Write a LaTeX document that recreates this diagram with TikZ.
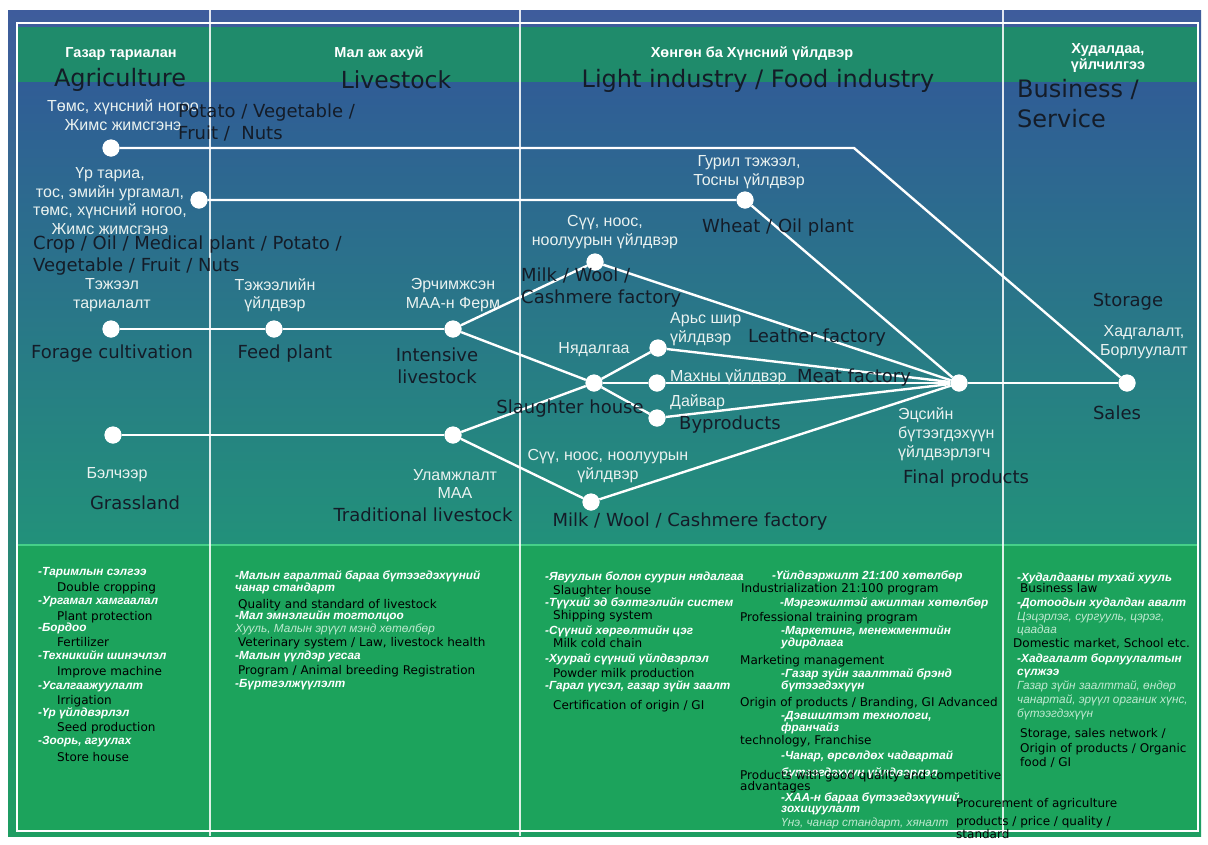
\documentclass[tikz,border=0pt]{standalone}
\usepackage{fontspec}
\setmainfont{Liberation Sans}
\newfontfamily\engfont{DejaVu Sans}
\definecolor{rimtop}{HTML}{3E5C9C}
\definecolor{rimbot}{HTML}{1E9E62}
\definecolor{paneltop}{HTML}{305D96}
\definecolor{panelbot}{HTML}{22917A}
\definecolor{headband}{HTML}{1F8B6B}
\definecolor{lowband}{HTML}{1CA35C}
\definecolor{lowedge}{HTML}{45D088}
\definecolor{inkdark}{HTML}{141C28}
\definecolor{paletext}{HTML}{EAF2F0}
\definecolor{softtext}{HTML}{BFE9D0}
\tikzset{
  dot/.style={circle, fill=white, minimum size=17pt, inner sep=0pt},
  link/.style={draw=white, line width=2.4pt},
  divider/.style={draw=white, opacity=0.85, line width=1.3pt},
  mnlabel/.style={text=paletext, font=\fontsize{16}{18.5}\selectfont, align=center, inner sep=0pt},
  enlabel/.style={text=inkdark, font=\engfont\fontsize{18}{21.5}\selectfont, align=center, inner sep=0pt},
  headmn/.style={text=white, font=\bfseries\fontsize{14.5}{16.5}\selectfont, align=center, inner sep=0pt},
  headen/.style={text=inkdark, font=\engfont\fontsize{24}{30}\selectfont, align=left, inner sep=0pt},
  notemn/.style={anchor=base west, text=white, font=\bfseries\itshape\fontsize{11.8}{12}\selectfont, inner sep=0pt},
  notesoft/.style={anchor=base west, text=softtext, font=\itshape\fontsize{11.8}{12}\selectfont, inner sep=0pt},
  noteen/.style={anchor=base west, text=black, font=\engfont\fontsize{12}{13}\selectfont, inner sep=0pt}
}
\begin{document}
\begin{tikzpicture}[x=1pt,y=-1pt]
\useasboundingbox (0,0) rectangle (1208,844);
\fill[white] (0,0) rectangle (1208,844);
% panels
\shade[top color=rimtop, bottom color=rimbot] (8,10) rectangle (1201,836);
\shade[top color=paneltop, bottom color=panelbot] (17,82) rectangle (1198,545);
\fill[headband] (17,27) rectangle (1198,82);
\fill[lowband] (17,545) rectangle (1198,831);
\draw[lowedge, line width=2pt] (17,545) -- (1198,545);
\draw[white, line width=1.3pt] (17,23) rectangle (1198,831);
\draw[divider] (210,10) -- (210,836);
\draw[divider] (520,10) -- (520,836);
\draw[divider] (1003,10) -- (1003,836);

% column headings
\node[headmn] (hagmn) at (121,54) {Газар тариалан};
\node[headen, anchor=center] (hagen) at (120,80) {Agriculture};
\node[headmn] (hlvmn) at (379,54) {Мал аж ахуй};
\node[headen, anchor=center, font=\engfont\fontsize{23.5}{28}\selectfont] (hlven) at (396,80) {Livestock};
\node[headmn] (hinmn) at (752,54) {Хөнгөн ба Хүнсний үйлдвэр};
\node[headen, anchor=center] (hinen) at (758,81) {Light industry / Food industry};
\node[headmn] (hbsmn) at (1108,58) {Худалдаа,\\үйлчилгээ};
\node[headen, anchor=north west] (hbsen) at (1017,79) {Business /\\Service};

% stations
\node[dot] (potato) at (111,148) {};
\node[dot] (crop) at (199,200) {};
\node[dot] (forage) at (111,329) {};
\node[dot] (feed) at (274,329) {};
\node[dot] (intensive) at (453,329) {};
\node[dot] (grass) at (113,435) {};
\node[dot] (tradition) at (453,435) {};
\node[dot] (milkup) at (595,262) {};
\node[dot] (slaughter) at (594,383) {};
\node[dot] (leather) at (658,348) {};
\node[dot] (meat) at (657,383) {};
\node[dot] (byprod) at (657,418) {};
\node[dot] (milkdown) at (591,502) {};
\node[dot] (wheat) at (745,200) {};
\node[dot] (final) at (959,383) {};
\node[dot] (sales) at (1127,383) {};
\coordinate (potatobend) at (854,148);

% connectors
\draw[link] (potato) -- (potatobend) -- (sales);
\draw[link] (crop) -- (wheat) -- (final);
\draw[link] (forage) -- (feed) -- (intensive);
\draw[link] (intensive) -- (milkup);
\draw[link] (intensive) -- (slaughter);
\draw[link] (grass) -- (tradition);
\draw[link] (tradition) -- (slaughter);
\draw[link] (tradition) -- (milkdown);
\draw[link] (slaughter) -- (leather);
\draw[link] (slaughter) -- (meat);
\draw[link] (slaughter) -- (byprod);
\draw[link] (milkup) -- (final);
\draw[link] (leather) -- (final);
\draw[link] (meat) -- (final);
\draw[link] (byprod) -- (final);
\draw[link] (milkdown) -- (final);
\draw[link] (final) -- (sales);
% stations drawn again on top of the lines
\foreach \s in {potato,crop,forage,feed,intensive,grass,tradition,milkup,slaughter,leather,meat,byprod,milkdown,wheat,final,sales}
  \fill[white] (\s) circle (8.5pt);

% station labels
\node[mnlabel] (potatomn) at (123,115) {Төмс, хүнсний ногоо\\Жимс жимсгэнэ};
\node[enlabel, anchor=north west, align=left] (potatoen) at (178,104) {Potato / Vegetable /\\Fruit /\ \ Nuts};
\node[mnlabel] (cropmn) at (110,201) {Үр тариа,\\тос, эмийн ургамал,\\төмс, хүнсний ногоо,\\Жимс жимсгэнэ};
\node[enlabel, anchor=north west, align=left] (cropen) at (33,236) {Crop / Oil / Medical plant / Potato /\\Vegetable / Fruit / Nuts};
\node[mnlabel] (foragemn) at (112,295) {Тэжээл\\тариалалт};
\node[enlabel] (forageen) at (112,354) {Forage cultivation};
\node[mnlabel] (feedmn) at (275,295) {Тэжээлийн\\үйлдвэр};
\node[enlabel] (feeden) at (285,354) {Feed plant};
\node[mnlabel] (intensivemn) at (453,295) {Эрчимжсэн\\МАА-н Ферм};
\node[enlabel] (intensiveen) at (437,366) {Intensive\\livestock};
\node[mnlabel] (grassmn) at (117,475) {Бэлчээр};
\node[enlabel] (grassen) at (135,503) {Grassland};
\node[mnlabel] (traditionmn) at (455,484) {Уламжлалт\\МАА};
\node[enlabel] (traditionen) at (423,515) {Traditional livestock};
\node[mnlabel] (milkupmn) at (605,232) {Сүү, ноос,\\ноолуурын үйлдвэр};
\node[enlabel, anchor=north west, align=left] (milkupen) at (521,268) {Milk / Wool /\\Cashmere factory};
\node[mnlabel] (wheatmn) at (749,172) {Гурил тэжээл,\\Тосны үйлдвэр};
\node[enlabel] (wheaten) at (778,228) {Wheat / Oil plant};
\node[mnlabel] (slaughtermn) at (594,350) {Нядалгаа};
\node[enlabel] (slaughteren) at (570,409) {Slaughter house};
\node[mnlabel, anchor=west, align=left] (leathermn) at (670,329) {Арьс шир\\үйлдвэр};
\node[enlabel, anchor=west] (leatheren) at (748,338) {Leather factory};
\node[mnlabel, anchor=west] (meatmn) at (670,377) {Махны үйлдвэр};
\node[enlabel, anchor=west] (meaten) at (797,378) {Meat factory};
\node[mnlabel, anchor=west] (byprodmn) at (670,402) {Дайвар};
\node[enlabel, anchor=west] (byproden) at (679,425) {Byproducts};
\node[mnlabel] (milkdownmn) at (608,466) {Сүү, ноос, ноолуурын\\үйлдвэр};
\node[enlabel] (milkdownen) at (690,522) {Milk / Wool / Cashmere factory};
\node[mnlabel, anchor=west, align=left, font=\fontsize{16}{19}\selectfont] (finalmn) at (898,434) {Эцсийн\\бүтээгдэхүүн\\үйлдвэрлэгч};
\node[enlabel, anchor=west] (finalen) at (903,479) {Final products};
\node[enlabel] (storageen) at (1128,302) {Storage};
\node[mnlabel] (salesmn) at (1144,342) {Хадгалалт,\\Борлуулалт};
\node[enlabel] (salesen) at (1117,413) {Sales};

% notes: agriculture
\node[notemn] (n1a) at (38,575) {-Таримлын сэлгээ};
\node[noteen] (n1b) at (57,591) {Double cropping};
\node[notemn] (n1c) at (38,604) {-Ургамал хамгаалал};
\node[noteen] (n1d) at (57,620) {Plant protection};
\node[notemn] (n1e) at (38,631) {-Бордоо};
\node[noteen] (n1f) at (57,646) {Fertilizer};
\node[notemn] (n1g) at (38,659) {-Техникийн шинэчлэл};
\node[noteen] (n1h) at (57,675) {Improve machine};
\node[notemn] (n1i) at (38,689) {-Усалгаажуулалт};
\node[noteen] (n1j) at (57,704) {Irrigation};
\node[notemn] (n1k) at (38,716) {-Үр үйлдвэрлэл};
\node[noteen] (n1l) at (57,731) {Seed production};
\node[notemn] (n1m) at (38,744) {-Зоорь, агуулах};
\node[noteen] (n1n) at (57,761) {Store house};

% notes: livestock
\node[notemn] (n2a) at (235,579) {-Малын гаралтай бараа бүтээгдэхүүний};
\node[notemn] (n2b) at (235,591) {чанар стандарт};
\node[noteen] (n2c) at (238,608) {Quality and standard of livestock};
\node[notemn] (n2d) at (235,619) {-Мал эмнэлгийн тогтолцоо};
\node[notesoft] (n2e) at (235,632) {Хууль, Малын эрүүл мэнд хөтөлбөр};
\node[noteen] (n2f) at (238,646) {Veterinary system / Law, livestock health};
\node[notemn] (n2g) at (235,659) {-Малын үүлдэр угсаа};
\node[noteen] (n2h) at (238,674) {Program / Animal breeding Registration};
\node[notemn] (n2i) at (235,687) {-Бүртгэлжүүлэлт};

% notes: light and food industry
\node[notemn] (n3a) at (545,580) {-Явуулын болон суурин нядалгаа};
\node[noteen] (n3b) at (553,594) {Slaughter house};
\node[notemn] (n3c) at (545,606) {-Түүхий эд бэлтгэлийн систем};
\node[noteen] (n3d) at (553,619) {Shipping system};
\node[notemn] (n3e) at (545,634) {-Сүүний хөргөлтийн цэг};
\node[noteen] (n3f) at (553,647) {Milk cold chain};
\node[notemn] (n3g) at (545,662) {-Хуурай сүүний үйлдвэрлэл};
\node[noteen] (n3h) at (553,677) {Powder milk production};
\node[notemn] (n3i) at (545,689) {-Гарал үүсэл, газар зүйн заалт};
\node[noteen] (n3j) at (553,709) {Certification of origin / GI};

\node[notemn] (n4a) at (772,579) {-Үйлдвэржилт 21:100 хөтөлбөр};
\node[noteen] (n4b) at (741,592) {Industrialization 21:100 program};
\node[notemn] (n4c) at (780,606) {-Мэргэжилтэй ажилтан хөтөлбөр};
\node[noteen] (n4d) at (740,621) {Professional training program};
\node[notemn] (n4e) at (781,634) {-Маркетинг, менежментийн};
\node[notemn] (n4f) at (781,646) {удирдлага};
\node[noteen] (n4g) at (740,664) {Marketing management};
\node[notemn] (n4h) at (781,677) {-Газар зүйн заалттай брэнд};
\node[notemn] (n4i) at (781,689) {бүтээгдэхүүн};
\node[noteen] (n4j) at (740,706) {Origin of products / Branding, GI Advanced};
\node[notemn] (n4k) at (781,719) {-Дэвшилтэт технологи,};
\node[notemn] (n4l) at (781,731) {франчайз};
\node[noteen] (n4m) at (740,744) {technology, Franchise};
\node[notemn] (n4n) at (781,759) {-Чанар, өрсөлдөх чадвартай};
\node[notemn] (n4o) at (781,776) {бүтээгдэхүүн үйлдвэрлэл};
\node[noteen] (n4p) at (740,779) {Products with good quality and competitive};
\node[noteen] (n4q) at (740,790) {advantages};
\node[notemn] (n4r) at (781,801) {-ХАА-н бараа бүтээгдэхүүний};
\node[notemn] (n4s) at (781,812) {зохицуулалт};
\node[notesoft] (n4t) at (781,826) {Үнэ, чанар стандарт, хяналт};
\node[noteen] (n4u) at (956,807) {Procurement of agriculture};
\node[noteen] (n4v) at (956,825) {products / price / quality /};
\node[noteen] (n4w) at (956,838) {standard};

% notes: business and service
\node[notemn] (n5a) at (1017,581) {-Худалдааны тухай хууль};
\node[noteen] (n5b) at (1020,592) {Business law};
\node[notemn] (n5c) at (1017,606) {-Дотоодын худалдан авалт};
\node[notesoft] (n5d) at (1017,620) {Цэцэрлэг, сургууль, цэрэг,};
\node[notesoft] (n5e) at (1017,633) {цаадаа};
\node[noteen] (n5f) at (1013,647) {Domestic market, School etc.};
\node[notemn] (n5g) at (1017,662) {-Хадгалалт борлуулалтын};
\node[notemn] (n5h) at (1017,675) {сүлжээ};
\node[notesoft] (n5i) at (1017,689) {Газар зүйн заалттай, өндөр};
\node[notesoft] (n5j) at (1017,703) {чанартай, эрүүл органик хүнс,};
\node[notesoft] (n5k) at (1017,717) {бүтээгдэхүүн};
\node[noteen] (n5l) at (1020,737) {Storage, sales network /};
\node[noteen] (n5m) at (1020,752) {Origin of products / Organic};
\node[noteen] (n5n) at (1020,766) {food / GI};
\end{tikzpicture}
\end{document}
